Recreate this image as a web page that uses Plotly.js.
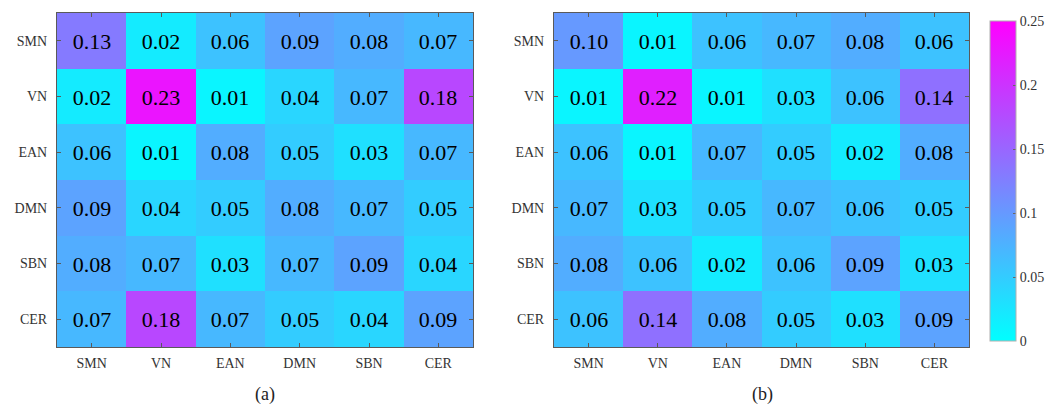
<!DOCTYPE html>
<html>
<head>
<meta charset="utf-8">
<script src="https://cdn.plot.ly/plotly-3.0.1.min.js"></script>
<style>
  html, body { margin: 0; padding: 0; background: #fff; }
  #chart { width: 1062px; height: 406px; }
</style>
</head>
<body>
<div id="chart"></div>
<script>
// Network labels shared by both matrices
const networks = ['SMN', 'VN', 'EAN', 'DMN', 'SBN', 'CER'];

// Matrix (a)
const matrixA = [
  [0.13, 0.02, 0.06, 0.09, 0.08, 0.07],
  [0.02, 0.23, 0.01, 0.04, 0.07, 0.18],
  [0.06, 0.01, 0.08, 0.05, 0.03, 0.07],
  [0.09, 0.04, 0.05, 0.08, 0.07, 0.05],
  [0.08, 0.07, 0.03, 0.07, 0.09, 0.04],
  [0.07, 0.18, 0.07, 0.05, 0.04, 0.09]
];

// Matrix (b)
const matrixB = [
  [0.10, 0.01, 0.06, 0.07, 0.08, 0.06],
  [0.01, 0.22, 0.01, 0.03, 0.06, 0.14],
  [0.06, 0.01, 0.07, 0.05, 0.02, 0.08],
  [0.07, 0.03, 0.05, 0.07, 0.06, 0.05],
  [0.08, 0.06, 0.02, 0.06, 0.09, 0.03],
  [0.06, 0.14, 0.08, 0.05, 0.03, 0.09]
];

const panelLabels = ['(a)', '(b)'];
const colorTicks = [0, 0.05, 0.1, 0.15, 0.2, 0.25];
const colorTickText = ['0', '0.05', '0.1', '0.15', '0.2', '0.25'];

const serif = 'Liberation Serif';
const coolScale = [[0, 'rgb(0,255,255)'], [1, 'rgb(255,0,255)']];

function heat(z, xa, ya, showScale) {
  return {
    type: 'heatmap',
    x: networks,
    y: networks,
    z: z,
    xaxis: xa,
    yaxis: ya,
    zmin: 0,
    zmax: 0.25,
    colorscale: coolScale,
    showscale: showScale,
    texttemplate: '%{z:.2f}',
    textfont: { family: serif, size: 22, color: '#000' },
    hoverinfo: 'x+y+z',
    xgap: 0, ygap: 0,
    colorbar: {
      x: 0.9322, xanchor: 'left',
      y: 0.554, yanchor: 'middle',
      len: 0.788, lenmode: 'fraction',
      thickness: 26,
      xpad: 0, ypad: 0,
      outlinewidth: 1, outlinecolor: '#b0b0b0',
      tickvals: colorTicks,
      ticktext: colorTickText,
      ticks: 'inside', ticklen: 3, tickcolor: '#666',
      tickfont: { family: serif, size: 14, color: '#333' }
    }
  };
}

const axisCommon = {
  type: 'category',
  showline: true, linecolor: '#5a5a5a', linewidth: 1,
  mirror: 'allticks',
  ticks: 'inside', ticklen: 4, tickcolor: '#5a5a5a', tickwidth: 1,
  showgrid: false, zeroline: false,
  tickfont: { family: serif, size: 14, color: '#333' },
  fixedrange: true
};

const yDomain = [1 - 347 / 406, 1 - 13 / 406];

const layout = {
  width: 1062, height: 406,
  margin: { l: 0, r: 0, t: 0, b: 0 },
  paper_bgcolor: '#fff', plot_bgcolor: '#fff',
  font: { family: serif },
  xaxis: Object.assign({}, axisCommon, { domain: [57 / 1062, 473 / 1062], anchor: 'y', ticklabelstandoff: 3 }),
  yaxis: Object.assign({}, axisCommon, { domain: yDomain, anchor: 'x', autorange: 'reversed', ticklabelstandoff: 6 }),
  xaxis2: Object.assign({}, axisCommon, { domain: [554 / 1062, 969 / 1062], anchor: 'y2', ticklabelstandoff: 3 }),
  yaxis2: Object.assign({}, axisCommon, { domain: yDomain, anchor: 'x2', autorange: 'reversed', ticklabelstandoff: 6 }),
  annotations: [
    { text: panelLabels[0], xref: 'paper', yref: 'paper', x: 265 / 1062, y: 1 - 394 / 406,
      showarrow: false, xanchor: 'center', yanchor: 'middle', font: { family: serif, size: 18, color: '#222' } },
    { text: panelLabels[1], xref: 'paper', yref: 'paper', x: 762 / 1062, y: 1 - 394 / 406,
      showarrow: false, xanchor: 'center', yanchor: 'middle', font: { family: serif, size: 18, color: '#222' } }
  ]
};

Plotly.newPlot('chart', [heat(matrixA, 'x', 'y', false), heat(matrixB, 'x2', 'y2', true)], layout,
  { displayModeBar: false, staticPlot: true });
</script>
</body>
</html>
